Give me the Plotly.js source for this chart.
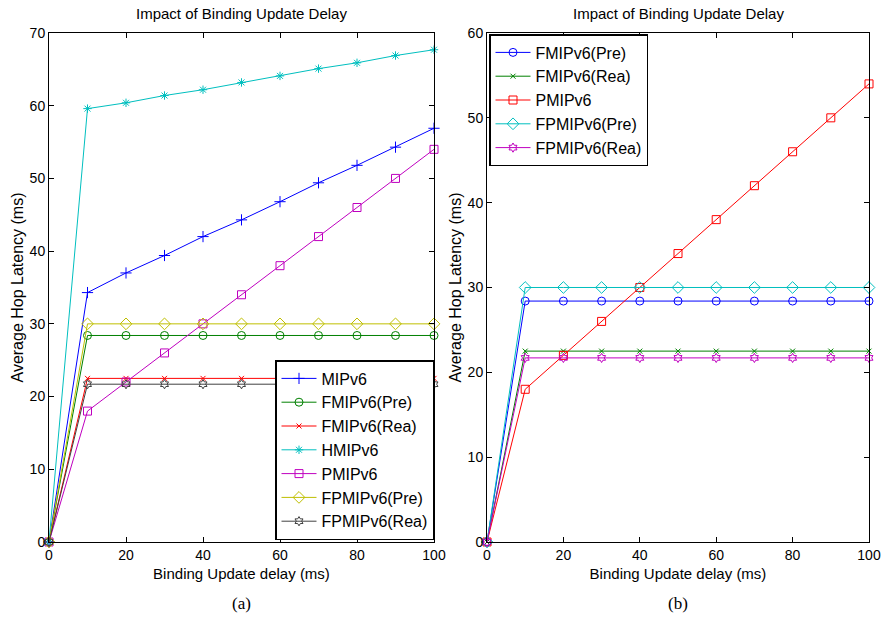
<!DOCTYPE html>
<html><head><meta charset="utf-8">
<script src="https://cdn.plot.ly/plotly-3.0.1.min.js"></script>
<style>body{margin:0;background:#fff}#c{width:882px;height:618px}</style>
</head><body><div id="c"></div>
<script>
const xDelay = [0,10,20,30,40,50,60,70,80,90,100];
const mipv6 = [0,34.3,37.0,39.4,42.0,44.3,46.8,49.4,51.8,54.3,56.9];
const fmipPre = [0,28.4,28.4,28.4,28.4,28.4,28.4,28.4,28.4,28.4,28.4];
const fmipRea = [0,22.5,22.5,22.5,22.5,22.5,22.5,22.5,22.5,22.5,22.5];
const hmipv6 = [0,59.6,60.4,61.4,62.2,63.2,64.1,65.1,65.9,66.9,67.7];
const pmipv6 = [0,18,22,26,30,34,38,42,46,50,54];
const fpmipPre = [0,30,30,30,30,30,30,30,30,30,30];
const fpmipRea = [0,21.7,21.7,21.7,21.7,21.7,21.7,21.7,21.7,21.7,21.7];
const xTicks = [0,20,40,60,80,100];
const yTicksA = [0,10,20,30,40,50,60,70];
const yTicksB = [0,10,20,30,40,50,60];

const C = {b:'#0000ff', g:'#008000', r:'#ff0000', c:'#00bfbf', m:'#bf00bf', y:'#bfbf00', k:'#404040'};
function tr(name, y, color, sym, size, ax, leg){
  return {x:xDelay, y:y, name:name, type:'scatter', mode:'lines+markers', cliponaxis:false,
    line:{color:color,width:1}, marker:{symbol:sym,size:size,color:color,line:{color:color,width:1}},
    xaxis:ax==1?'x':'x2', yaxis:ax==1?'y':'y2', legend:leg};
}
const data = [
  tr('MIPv6', mipv6, C.b, 'cross-thin-open', 8, 1, 'legend'),
  tr('FMIPv6(Pre)', fmipPre, C.g, 'circle-open', 8, 1, 'legend'),
  tr('FMIPv6(Rea)', fmipRea, C.r, 'x-thin-open', 5, 1, 'legend'),
  tr('HMIPv6', hmipv6, C.c, 'asterisk-open', 7, 1, 'legend'),
  tr('PMIPv6', pmipv6, C.m, 'square-open', 8, 1, 'legend'),
  tr('FPMIPv6(Pre)', fpmipPre, C.y, 'diamond-open', 9, 1, 'legend'),
  tr('FPMIPv6(Rea)', fpmipRea, C.k, 'hexagram-open', 7, 1, 'legend'),
  tr('FMIPv6(Pre)', fmipPre, C.b, 'circle-open', 8, 2, 'legend2'),
  tr('FMIPv6(Rea)', fmipRea, C.g, 'x-thin-open', 5, 2, 'legend2'),
  tr('PMIPv6', pmipv6, C.r, 'square-open', 8, 2, 'legend2'),
  tr('FPMIPv6(Pre)', fpmipPre, C.c, 'diamond-open', 9, 2, 'legend2'),
  tr('FPMIPv6(Rea)', fpmipRea, C.m, 'hexagram-open', 7, 2, 'legend2')
];
const F = 'Liberation Sans Narrow, Arial Narrow, Liberation Sans, Arial, sans-serif';
function xax(dom, anchor){
  return {domain:dom, anchor:anchor, range:[0,100], tickvals:xTicks, ticks:'inside', ticklen:5,
    tickcolor:'#000', showline:true, linecolor:'#000', linewidth:1, mirror:'allticks', showgrid:false,
    zeroline:false, ticklabeloverflow:'allow', tickfont:{size:14,family:F,color:'#000'},
    title:{text:'Binding Update delay (ms)', font:{size:15,family:F,color:'#000'}, standoff:6}};
}
function yax(dom, anchor, max, tv){
  return {domain:dom, anchor:anchor, range:[0,max], tickvals:tv, ticks:'inside', ticklen:5,
    tickcolor:'#000', showline:true, linecolor:'#000', linewidth:1, mirror:'allticks', showgrid:false,
    zeroline:false, tickfont:{size:14,family:F,color:'#000'},
    title:{text:'Average Hop Latency (ms)', font:{size:16,family:F,color:'#000'}, standoff:2}};
}
const yd = [0.123, 0.9466];
const layout = {
  width:882, height:618, margin:{l:0,r:0,t:0,b:0}, paper_bgcolor:'#fff', plot_bgcolor:'#fff',
  showlegend:true,
  xaxis: xax([49/882, 434/882], 'y'),
  yaxis: yax(yd, 'x', 70, yTicksA),
  xaxis2: xax([487/882, 869/882], 'y2'),
  yaxis2: yax(yd, 'x2', 60, yTicksB),
  legend:{x:434/882, xanchor:'right', y:(618-540)/618, yanchor:'bottom', bgcolor:'#fff',
    bordercolor:'#000', borderwidth:1.5, font:{size:16,family:F,color:'#000'}, tracegroupgap:0, itemwidth:35},
  legend2:{x:489/882, xanchor:'left', y:(618-34)/618, yanchor:'top', bgcolor:'#fff',
    bordercolor:'#000', borderwidth:1.5, font:{size:16,family:F,color:'#000'}, tracegroupgap:0, itemwidth:35},
  annotations:[
    {text:'Impact of Binding Update Delay', xref:'paper', yref:'paper', x:(49+434)/2/882, y:(618-14)/618,
      xanchor:'center', showarrow:false, yanchor:'middle', font:{size:15,family:F,color:'#000'}},
    {text:'Impact of Binding Update Delay', xref:'paper', yref:'paper', x:(487+869)/2/882, y:(618-14)/618,
      xanchor:'center', showarrow:false, yanchor:'middle', font:{size:15,family:F,color:'#000'}},
    {text:'(a)', xref:'paper', yref:'paper', x:(49+434)/2/882, y:(618-603)/618,
      xanchor:'center', showarrow:false, yanchor:'middle', font:{size:17,family:'Liberation Serif, Times New Roman, serif',color:'#000'}},
    {text:'(b)', xref:'paper', yref:'paper', x:(487+869)/2/882, y:(618-603)/618,
      xanchor:'center', showarrow:false, yanchor:'middle', font:{size:17,family:'Liberation Serif, Times New Roman, serif',color:'#000'}}
  ]
};
Plotly.newPlot('c', data, layout, {displayModeBar:false, staticPlot:true});
</script></body></html>
